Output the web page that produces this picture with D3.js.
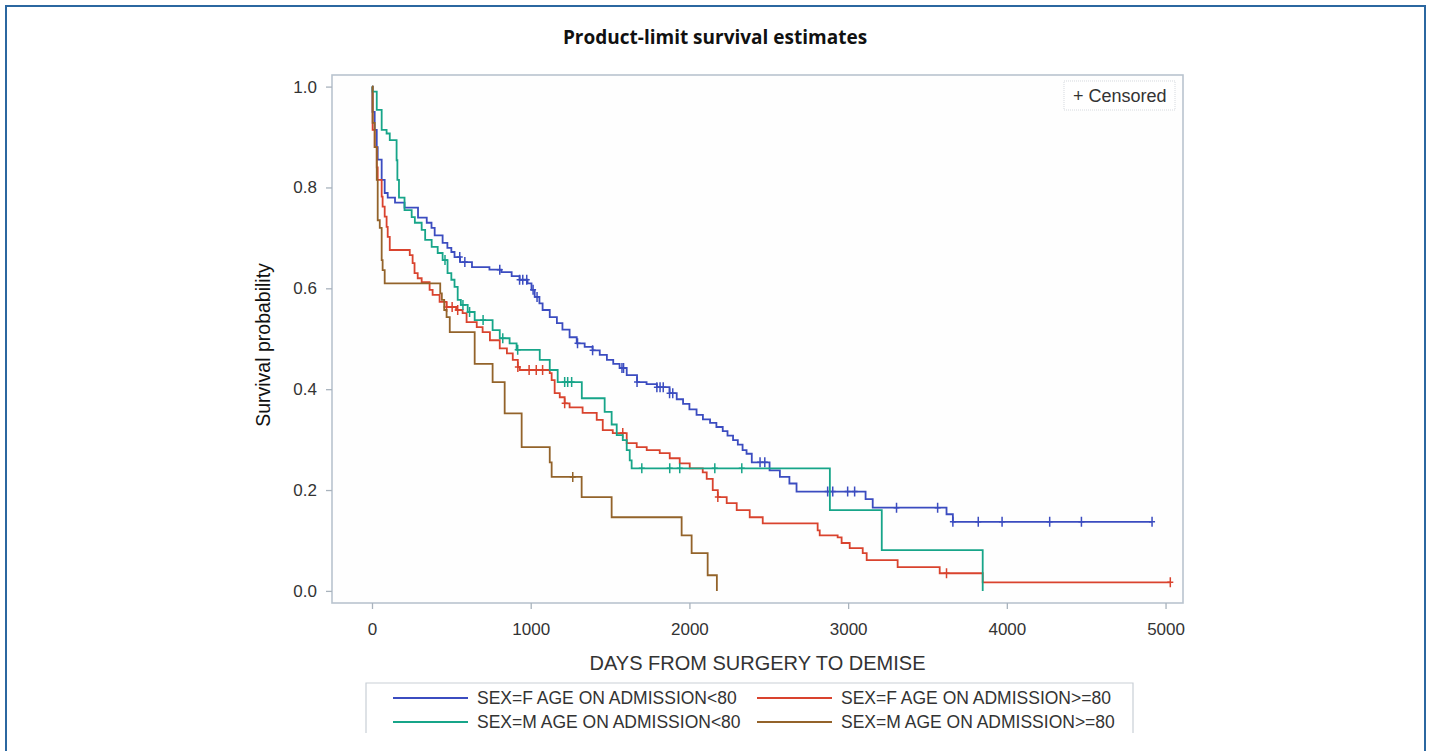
<!DOCTYPE html>
<html>
<head>
<meta charset="utf-8">
<script src="https://cdn.jsdelivr.net/npm/d3@7"></script>
<style>
  body { margin: 0; background: #ffffff; }
  svg { display: block; }
</style>
</head>
<body>
<div id="chart"></div>
<script>
// data: [days, survival] at each drop
var fUnder80 = [[0,1],[3,0.95],[17,0.914],[30,0.88],[36,0.855],[61,0.815],[80,0.789],[99,0.78],[145,0.77],[205,0.76],[290,0.74],[345,0.73],[375,0.72],[395,0.705],[445,0.69],[475,0.68],[500,0.672],[520,0.662],[555,0.652],[630,0.642],[740,0.637],[815,0.632],[880,0.624],[930,0.617],[980,0.61],[1005,0.597],[1025,0.583],[1055,0.57],[1075,0.557],[1120,0.543],[1165,0.531],[1200,0.518],[1245,0.503],[1290,0.491],[1340,0.484],[1390,0.477],[1435,0.468],[1480,0.458],[1520,0.45],[1560,0.442],[1605,0.428],[1670,0.414],[1730,0.41],[1795,0.404],[1875,0.392],[1920,0.38],[1960,0.371],[2000,0.36],[2045,0.349],[2085,0.34],[2130,0.333],[2170,0.325],[2210,0.317],[2240,0.308],[2275,0.299],[2305,0.29],[2335,0.279],[2360,0.272],[2393,0.255],[2505,0.239],[2570,0.226],[2630,0.213],[2675,0.197],[3110,0.182],[3155,0.165],[3620,0.152],[3660,0.137],[4915,0.137]];
var fUnder80Censored = [553,585,805,930,950,975,1015,1040,1295,1390,1575,1585,1670,1795,1815,1835,1875,1895,2445,2475,2871,2903,2997,3041,3305,3564,3660,3820,3970,4270,4470,4915];

var fOver80 = [[0,1],[4,0.914],[17,0.88],[30,0.84],[36,0.815],[61,0.782],[67,0.762],[80,0.742],[92,0.722],[99,0.702],[112,0.676],[238,0.666],[256,0.65],[268,0.63],[288,0.62],[313,0.612],[363,0.597],[382,0.587],[426,0.573],[470,0.563],[530,0.557],[571,0.551],[596,0.533],[660,0.523],[697,0.513],[743,0.497],[805,0.481],[850,0.471],[887,0.458],[919,0.444],[931,0.438],[1120,0.432],[1132,0.418],[1151,0.392],[1183,0.384],[1214,0.372],[1245,0.364],[1327,0.353],[1416,0.339],[1454,0.319],[1517,0.313],[1605,0.293],[1668,0.285],[1731,0.279],[1813,0.273],[1876,0.263],[1939,0.253],[2002,0.243],[2084,0.235],[2109,0.222],[2147,0.2],[2179,0.186],[2235,0.174],[2298,0.16],[2380,0.146],[2462,0.134],[2808,0.12],[2821,0.11],[2934,0.106],[2959,0.095],[3010,0.085],[3092,0.075],[3117,0.061],[3312,0.047],[3577,0.035],[3848,0.017],[5030,0.017]];
var fOver80Censored = [470,505,540,919,990,1035,1075,1214,1580,2179,3620,5030];

var mUnder80 = [[0,1],[3,0.99],[30,0.954],[61,0.914],[92,0.907],[112,0.894],[155,0.854],[160,0.815],[170,0.78],[205,0.755],[250,0.741],[270,0.73],[313,0.716],[335,0.696],[376,0.682],[414,0.67],[445,0.656],[476,0.63],[500,0.617],[520,0.603],[540,0.577],[560,0.567],[603,0.553],[647,0.537],[760,0.517],[805,0.501],[867,0.491],[911,0.478],[1057,0.458],[1120,0.438],[1170,0.414],[1322,0.382],[1466,0.355],[1510,0.33],[1542,0.309],[1580,0.299],[1605,0.279],[1624,0.259],[1636,0.243],[2885,0.16],[3212,0.081],[3848,0],[3848,0]];
var mUnder80Censored = [460,573,615,700,824,918,1214,1233,1258,1700,1876,1939,2160,2330];

var mOver80 = [[0,1],[4,0.928],[17,0.88],[30,0.815],[36,0.735],[49,0.72],[61,0.656],[67,0.636],[80,0.61],[430,0.59],[440,0.577],[455,0.557],[470,0.543],[490,0.513],[647,0.45],[760,0.414],[836,0.352],[943,0.285],[1120,0.255],[1132,0.226],[1321,0.186],[1510,0.146],[1951,0.11],[2014,0.075],[2115,0.031],[2173,0.0],[2173,0.0]];
var mOver80Censored = [1265];

var seriesNames = ["SEX=F AGE ON ADMISSION<80", "SEX=F AGE ON ADMISSION>=80", "SEX=M AGE ON ADMISSION<80", "SEX=M AGE ON ADMISSION>=80"];
var seriesColors = ["#3b4cc0", "#d9432e", "#17a589", "#93632a"];
var xTicks = [0, 1000, 2000, 3000, 4000, 5000];
var yTicks = [0, 0.2, 0.4, 0.6, 0.8, 1.0];

var series = [
  {name: seriesNames[0], color: seriesColors[0], steps: fUnder80, censored: fUnder80Censored},
  {name: seriesNames[1], color: seriesColors[1], steps: fOver80, censored: fOver80Censored},
  {name: seriesNames[2], color: seriesColors[2], steps: mUnder80, censored: mUnder80Censored},
  {name: seriesNames[3], color: seriesColors[3], steps: mOver80, censored: mOver80Censored}
];

var sans = "Liberation Sans, Arial, sans-serif";

var svg = d3.select("#chart")
            .append("svg")
            .attr("width", 1431)
            .attr("height", 751);

// outer frame of the figure
svg.append("rect")
   .attr("x", 6)
   .attr("y", 6)
   .attr("width", 1419)
   .attr("height", 780)
   .attr("fill", "none")
   .attr("stroke", "#2b67a0")
   .attr("stroke-width", 2);

svg.append("text")
   .attr("x", 715)
   .attr("y", 44)
   .attr("text-anchor", "middle")
   .attr("font-family", "Open Sans")
   .attr("font-weight", "700")
   .attr("font-size", "19px")
   .attr("fill", "#111")
   .text("Product-limit survival estimates");

var plotLeft = 332, plotRight = 1183, plotTop = 75, plotBottom = 603;

var x = d3.scaleLinear().domain([-252, 5110]).range([plotLeft, plotRight]);
var y = d3.scaleLinear().domain([-0.024, 1.023]).range([plotBottom, plotTop]);

svg.append("rect")
   .attr("x", plotLeft)
   .attr("y", plotTop)
   .attr("width", plotRight - plotLeft)
   .attr("height", plotBottom - plotTop)
   .attr("fill", "#fefefe")
   .attr("stroke", "#b9c4cf")
   .attr("stroke-width", 1.6);

var xAxis = svg.append("g")
               .attr("transform", "translate(0," + plotBottom + ")")
               .call(d3.axisBottom(x).tickValues(xTicks).tickSize(6).tickPadding(14).tickFormat(d3.format("d")));
var yAxis = svg.append("g")
               .attr("transform", "translate(" + plotLeft + ",0)")
               .call(d3.axisLeft(y).tickValues(yTicks).tickSize(6).tickPadding(9).tickFormat(d3.format(".1f")));

[xAxis, yAxis].forEach(function(ax) {
  ax.select(".domain").remove();
  ax.selectAll(".tick line").attr("stroke", "#a9b3bd").attr("stroke-width", 1.3);
  ax.selectAll(".tick text")
    .attr("font-family", sans)
    .attr("font-size", "17px")
    .attr("fill", "#333");
});

svg.append("text")
   .attr("x", (plotLeft + plotRight) / 2)
   .attr("y", 670)
   .attr("text-anchor", "middle")
   .attr("font-family", sans)
   .attr("font-size", "20px")
   .attr("fill", "#333")
   .text("DAYS FROM SURGERY TO DEMISE");

svg.append("text")
   .attr("transform", "translate(270,345) rotate(-90)")
   .attr("text-anchor", "middle")
   .attr("font-family", sans)
   .attr("font-size", "19.5px")
   .attr("fill", "#111")
   .text("Survival probability");

var line = d3.line()
             .curve(d3.curveStepAfter)
             .x(function(d) { return x(d[0]); })
             .y(function(d) { return y(d[1]); });

var bisect = d3.bisector(function(d) { return d[0]; }).right;
function survivalAt(steps, t) {
  var i = bisect(steps, t) - 1;
  return steps[Math.max(0, i)][1];
}

series.forEach(function(s) {
  svg.append("path")
     .datum(s.steps)
     .attr("d", line)
     .attr("fill", "none")
     .attr("stroke", s.color)
     .attr("stroke-width", 1.8);

  svg.append("g")
     .selectAll("path")
     .data(s.censored)
     .join("path")
     .attr("transform", function(t) { return "translate(" + x(t) + "," + y(survivalAt(s.steps, t)) + ")"; })
     .attr("d", "M-3,0H3M0,-5V5")
     .attr("fill", "none")
     .attr("stroke", s.color)
     .attr("stroke-width", 1.5);
});

// censored inset legend
svg.append("rect")
   .attr("x", 1064)
   .attr("y", 81)
   .attr("width", 111)
   .attr("height", 29)
   .attr("fill", "#fff")
   .attr("stroke", "#d5d9de")
   .attr("stroke-dasharray", "1,1");
svg.append("text")
   .attr("x", 1073)
   .attr("y", 102)
   .attr("font-family", sans)
   .attr("font-size", "18px")
   .attr("fill", "#333")
   .text("+ Censored");

// series legend (bottom cropped like the picture)
svg.append("path")
   .attr("d", "M366,733V683H1133V733")
   .attr("fill", "none")
   .attr("stroke", "#c9cfd6")
   .attr("stroke-width", 1.2);

var legendItems = svg.append("g")
                     .selectAll("g")
                     .data(series)
                     .join("g")
                     .attr("transform", function(d, i) {
                       var col = i % 2, row = Math.floor(i / 2);
                       return "translate(" + (col === 0 ? 393 : 757) + "," + (698 + row * 24) + ")";
                     });
legendItems.append("line")
           .attr("x1", 0)
           .attr("x2", 75)
           .attr("stroke", function(d) { return d.color; })
           .attr("stroke-width", 1.8);
legendItems.append("text")
           .attr("x", 84)
           .attr("y", 6)
           .attr("font-family", sans)
           .attr("font-size", "17.5px")
           .attr("fill", "#333")
           .text(function(d) { return d.name; });
</script>
</body>
</html>
